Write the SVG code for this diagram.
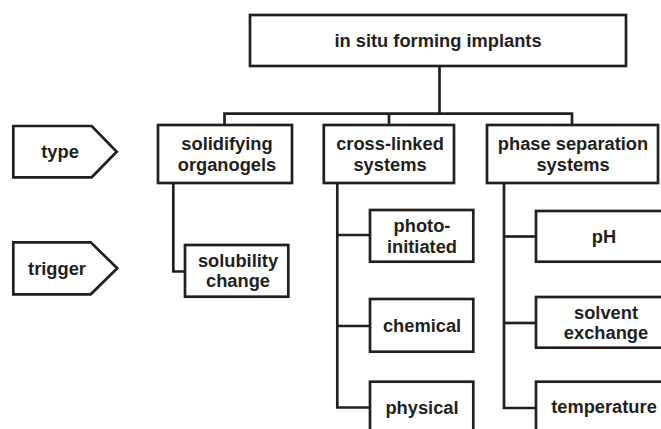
<svg xmlns="http://www.w3.org/2000/svg" width="661" height="429" viewBox="0 0 661 429">
<style>
.box{fill:#fff;stroke:#231f20;stroke-width:2.7;stroke-linejoin:miter}
.ln{fill:none;stroke:#231f20;stroke-width:2.7;stroke-linejoin:miter;stroke-linecap:butt}
text{font-family:"Liberation Sans",Arial,Helvetica,sans-serif;font-weight:bold;font-size:18.3px;fill:#231f20;text-anchor:middle}
</style>
<rect width="661" height="429" fill="#fff"/>
<g id="connectors">
<polyline class="ln" points="439.5,66 439.5,113.7"/>
<polyline class="ln" points="224.5,125 224.5,113.7 572,113.7 572,125"/>
<polyline class="ln" points="389,113.7 389,125"/>
<polyline class="ln" points="173.3,183 173.3,271.5 185,271.5"/>
<polyline class="ln" points="337.3,183 337.3,407.5 370,407.5"/>
<polyline class="ln" points="337.3,235 370,235"/>
<polyline class="ln" points="337.3,326 370,326"/>
<polyline class="ln" points="504,183 504,408 536,408"/>
<polyline class="ln" points="504,236.5 536,236.5"/>
<polyline class="ln" points="504,323 536,323"/>
</g>
<g id="root">
<rect class="box" x="250" y="15" width="376" height="51"/>
<text x="438" y="46.8">in situ forming implants</text>
</g>
<g id="label-type">
<path class="box" d="M13.3,126 H91.7 L116.7,151.7 L91.7,177.3 H13.3 Z"/>
<text x="60" y="157.8">type</text>
</g>
<g id="label-trigger">
<path class="box" d="M13.3,242.3 H90.7 L117.3,268.3 L90.7,294.3 H13.3 Z"/>
<text x="57" y="274.5">trigger</text>
</g>
<g id="solidifying-organogels">
<rect class="box" x="158" y="125" width="134" height="58"/>
<text x="227" y="150">solidifying</text>
<text x="227" y="170.7">organogels</text>
</g>
<g id="cross-linked-systems">
<rect class="box" x="323.8" y="125" width="130.2" height="58"/>
<text x="390" y="150">cross-linked</text>
<text x="390" y="170.7">systems</text>
</g>
<g id="phase-separation-systems">
<rect class="box" x="487" y="125" width="171" height="58"/>
<text x="573" y="150">phase separation</text>
<text x="573" y="170.7">systems</text>
</g>
<g id="solubility-change">
<rect class="box" x="185" y="245" width="103.3" height="51.7"/>
<text x="238" y="266.5">solubility</text>
<text x="238" y="287">change</text>
</g>
<g id="photo-initiated">
<rect class="box" x="370" y="210" width="103.3" height="51.7"/>
<text x="422" y="231.8">photo-</text>
<text x="422" y="252.5">initiated</text>
</g>
<g id="chemical">
<rect class="box" x="370" y="299" width="103.3" height="52.7"/>
<text x="422" y="331.5">chemical</text>
</g>
<g id="physical">
<rect class="box" x="370" y="381.7" width="103.3" height="52.3"/>
<text x="422" y="413.5">physical</text>
</g>
<g id="pH">
<rect class="box" x="536" y="211" width="140" height="50.7"/>
<text x="604" y="243">pH</text>
</g>
<g id="solvent-exchange">
<rect class="box" x="536" y="297" width="140" height="50.7"/>
<text x="606" y="318.8">solvent</text>
<text x="606" y="339.4">exchange</text>
</g>
<g id="temperature">
<rect class="box" x="536" y="381.7" width="140" height="52.3"/>
<text x="604" y="413">temperature</text>
</g>
</svg>
